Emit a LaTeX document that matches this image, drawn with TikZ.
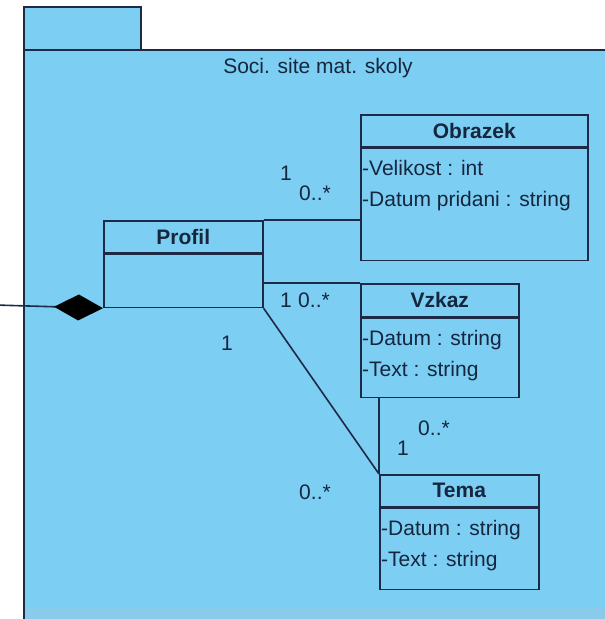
\documentclass[tikz,border=0pt]{standalone}
\usepackage{fontspec}
\setmainfont{Liberation Sans}
\usetikzlibrary{arrows.meta,positioning}
\definecolor{pkgblue}{RGB}{124,206,243}
\definecolor{pkgstrip}{RGB}{138,202,234}
\definecolor{pkgline}{RGB}{28,42,70}
\definecolor{pkgtext}{RGB}{22,38,62}
\tikzset{
  clshead/.style={draw=pkgline,line width=1.6pt,fill=pkgblue,
                  anchor=north west,inner sep=0pt,
                  font=\fontsize{21}{31}\selectfont\bfseries,text=pkgtext},
  clsbody/.style={draw=pkgline,line width=1.6pt,fill=pkgblue,
                  anchor=north west,inner sep=0pt},
  attr/.style={anchor=north west,align=left,inner sep=0pt,text=pkgtext},
  mult/.style={inner sep=0pt,text=pkgtext},
  assoc/.style={draw=pkgline,line width=1.6pt}
}
\begin{document}
\begin{tikzpicture}[x=1pt,y=-1pt,font=\fontsize{21}{31}\selectfont]
  \useasboundingbox (0,0) rectangle (605,619);
  \clip (0,0)
     rectangle (605,619);
  \fill[white] (0,0) rectangle (605,619);
  % package
  \draw[pkgline,line width=1.6pt,fill=pkgblue]
    (24,7) rectangle (141,50);
  \draw[pkgline,line width=1.6pt,fill=pkgblue]
    (24,50) rectangle (640,660);
  \fill[pkgstrip] (25,608) rectangle (605,619);
  \node[text=pkgtext] (title) at (318,68) {Soci. site mat. skoly};
  % classes
  \node[clshead,minimum width=227pt,minimum height=32pt]
    (obr) at (360,114) {Obrazek};
  \node[clsbody,minimum width=227pt,minimum height=112pt]
    (obrb) at (obr.south west) {};
  \node[attr] (obra) at ([xshift=2pt,yshift=-12pt]obrb.north west)
    {-Velikost : int\\-Datum pridani : string};
  \node[clshead,minimum width=159pt,minimum height=32pt]
    (prof) at (103,220) {Profil};
  \node[clsbody,minimum width=159pt,minimum height=53pt]
    (profb) at (prof.south west) {};
  \node[clshead,minimum width=158pt,minimum height=33pt]
    (vzk) at (360,283) {Vzkaz};
  \node[clsbody,minimum width=158pt,minimum height=79pt]
    (vzkb) at (vzk.south west) {};
  \node[attr] (vzka) at ([xshift=2pt,yshift=-12pt]vzkb.north west)
    {-Datum : string\\-Text : string};
  \node[clshead,minimum width=159pt,minimum height=32pt]
    (tema) at (379,474) {Tema};
  \node[clsbody,minimum width=159pt,minimum height=81pt]
    (temab) at (tema.south west) {};
  \node[attr] (temaa) at ([xshift=2pt,yshift=-12pt]temab.north west)
    {-Datum : string\\-Text : string};
  % associations
  \draw[assoc] (prof.north east) -- (prof.north east -| obrb.west);
  \draw[assoc] (vzk.north west -| prof.east) -- (vzk.north west);
  \draw[assoc] (profb.south east) -- (tema.north west);
  \draw[assoc] (vzkb.south -| tema.west) -- (tema.north west);
  \coordinate (ext) at (-5,305);
  \draw[assoc,-{Diamond[length=49pt,width=26pt,color=black]}]
    (ext) -- (profb.south west);
  % multiplicities
  \node[mult] (m1) at (286,173) {1};
  \node[mult] (m2) at (315,193) {0..*};
  \node[mult] (m3) at (286,300) {1};
  \node[mult] (m4) at (314,300) {0..*};
  \node[mult] (m5) at (227,343) {1};
  \node[mult] (m6) at (315,492) {0..*};
  \node[mult] (m7) at (434,428) {0..*};
  \node[mult] (m8) at (403,448) {1};
\end{tikzpicture}
\end{document}
